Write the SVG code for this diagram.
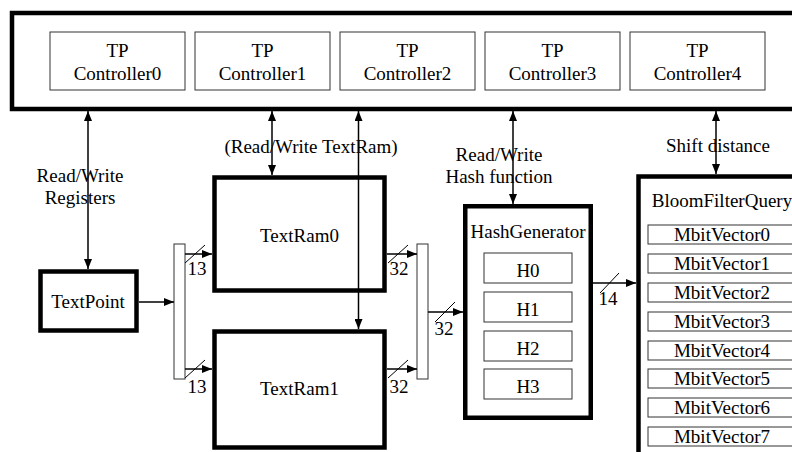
<svg xmlns="http://www.w3.org/2000/svg" width="792" height="452" viewBox="0 0 792 452">
<defs>
<style>
text{font-family:'Liberation Serif','Times New Roman','DejaVu Serif',serif;font-size:19px;fill:#000;text-anchor:middle}
.thick{fill:#fff;stroke:#000;stroke-width:4.5}
.thin{fill:#fff;stroke:#333;stroke-width:1}
.wire{fill:none;stroke:#000;stroke-width:1.5}
.slash{fill:none;stroke:#000;stroke-width:1}
</style>
<marker id="ah" viewBox="0 0 10 8" refX="10" refY="4" markerWidth="10" markerHeight="8" markerUnits="userSpaceOnUse" orient="auto-start-reverse">
<path d="M0,0 L10,4 L0,8 Z" fill="#000"/>
</marker>
</defs>
<rect width="792" height="452" fill="#fff"/>
<g font-family="Liberation Serif, Times New Roman, DejaVu Serif, serif">
<g id="top">
<rect class="thick" x="12" y="13" width="800" height="96"/>
</g>
<g id="ctrl0"><rect class="thin" x="50" y="32" width="135" height="58"/><text x="117.5" y="57">TP</text><text x="117.5" y="80">Controller0</text></g>
<g id="ctrl1"><rect class="thin" x="195" y="32" width="135" height="58"/><text x="262.5" y="57">TP</text><text x="262.5" y="80">Controller1</text></g>
<g id="ctrl2"><rect class="thin" x="340" y="32" width="135" height="58"/><text x="407.5" y="57">TP</text><text x="407.5" y="80">Controller2</text></g>
<g id="ctrl3"><rect class="thin" x="485" y="32" width="135" height="58"/><text x="552.5" y="57">TP</text><text x="552.5" y="80">Controller3</text></g>
<g id="ctrl4"><rect class="thin" x="630" y="32" width="135" height="58"/><text x="697.5" y="57">TP</text><text x="697.5" y="80">Controller4</text></g>

<g id="textpoint"><rect class="thick" x="40.5" y="271.5" width="96" height="59"/><text x="88" y="308">TextPoint</text></g>
<g id="mux-left"><rect class="thin" x="174" y="244" width="11" height="135"/></g>
<g id="textram0"><rect class="thick" x="214.5" y="177.5" width="170" height="113"/><text x="299.5" y="242">TextRam0</text></g>
<g id="textram1"><rect class="thick" x="214.5" y="331.5" width="170" height="116"/><text x="299.5" y="395">TextRam1</text></g>
<g id="mux-right"><rect class="thin" x="417" y="244" width="11" height="135"/></g>

<g id="hashgen">
<rect class="thick" x="465.25" y="206.25" width="125.5" height="211.5"/>
<text x="528" y="238">HashGenerator</text>
<rect class="thin" x="484" y="253" width="88" height="30"/><text x="528" y="277">H0</text>
<rect class="thin" x="484" y="292" width="88" height="30"/><text x="528" y="316">H1</text>
<rect class="thin" x="484" y="331" width="88" height="30"/><text x="528" y="355">H2</text>
<rect class="thin" x="484" y="369" width="88" height="30"/><text x="528" y="393">H3</text>
</g>

<g id="bloom">
<rect class="thick" x="638.5" y="176.5" width="170" height="290"/>
<text x="722" y="207">BloomFilterQuery</text>
<rect class="thin" x="648" y="225" width="148" height="19"/><text x="722" y="241">MbitVector0</text>
<rect class="thin" x="648" y="254" width="148" height="19"/><text x="722" y="270">MbitVector1</text>
<rect class="thin" x="648" y="283" width="148" height="19"/><text x="722" y="299">MbitVector2</text>
<rect class="thin" x="648" y="312" width="148" height="19"/><text x="722" y="328">MbitVector3</text>
<rect class="thin" x="648" y="341" width="148" height="19"/><text x="722" y="357">MbitVector4</text>
<rect class="thin" x="648" y="369" width="148" height="19"/><text x="722" y="385">MbitVector5</text>
<rect class="thin" x="648" y="398" width="148" height="19"/><text x="722" y="414">MbitVector6</text>
<rect class="thin" x="648" y="427" width="148" height="19"/><text x="722" y="443">MbitVector7</text>
</g>

<g id="connectors">
<path class="wire" d="M88,111 V269" marker-start="url(#ah)" marker-end="url(#ah)"/>
<path class="wire" d="M272,111 V175" marker-start="url(#ah)" marker-end="url(#ah)"/>
<path class="wire" d="M358.5,111 V329" marker-start="url(#ah)" marker-end="url(#ah)"/>
<path class="wire" d="M513,111 V204" marker-start="url(#ah)" marker-end="url(#ah)"/>
<path class="wire" d="M716,111 V174" marker-start="url(#ah)" marker-end="url(#ah)"/>

<path class="wire" d="M139,302 H174" marker-end="url(#ah)"/>
<path class="wire" d="M185,254 H212" marker-end="url(#ah)"/>
<path class="wire" d="M185,369 H212" marker-end="url(#ah)"/>
<path class="wire" d="M387,254 H417" marker-end="url(#ah)"/>
<path class="wire" d="M387,369 H417" marker-end="url(#ah)"/>
<path class="wire" d="M428,312 H463" marker-end="url(#ah)"/>
<path class="wire" d="M593,283 H636" marker-end="url(#ah)"/>

<path class="slash" d="M185,263 L205,245"/>
<path class="slash" d="M185,378 L205,360"/>
<path class="slash" d="M388,263 L408,245"/>
<path class="slash" d="M388,378 L408,360"/>
<path class="slash" d="M435,322 L455,302"/>
<path class="slash" d="M600,293 L619,273"/>

<text x="197" y="275">13</text>
<text x="197" y="393">13</text>
<text x="399" y="275">32</text>
<text x="399" y="393">32</text>
<text x="444" y="335">32</text>
<text x="608" y="305">14</text>

<text x="80" y="182">Read/Write</text>
<text x="80" y="204">Registers</text>
<text x="311" y="153">(Read/Write TextRam)</text>
<text x="499" y="161">Read/Write</text>
<text x="499" y="183">Hash function</text>
<text x="718" y="152">Shift distance</text>
</g>
</g>
</svg>
